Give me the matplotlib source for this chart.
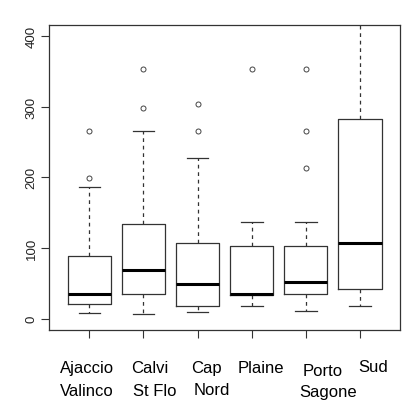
import matplotlib
matplotlib.use("Agg")
import matplotlib.pyplot as plt

plt.rcParams['font.family'] = ['Liberation Sans', 'DejaVu Sans']

categories = ["Ajaccio\nValinco", "Calvi\nSt Flo", "Cap\nNord", "Plaine", "Porto\nSagone", "Sud"]
whislo = [7.5, 6, 9.5, 18, 11, 18]
q1 = [21, 35, 18, 34, 35, 42]
med = [35, 68.5, 48.5, 35, 52, 107.5]
q3 = [88.5, 133.5, 107, 102.5, 102.5, 282.5]
whishi = [186, 266, 228, 137, 137, 460]
fliers = [[199.5, 266], [298, 354], [266, 304], [354], [213, 266, 354], []]
yticks = [0, 100, 200, 300, 400]

# label line layout (pixel centers / baselines measured on the reference)
label_lines = [
    ("Ajaccio", 86.7, 373), ("Valinco", 86.7, 396),
    ("Calvi", 150, 373), ("St Flo", 154.5, 396),
    ("Cap", 206, 373), ("Nord", 212, 395),
    ("Plaine", 261, 373),
    ("Porto", 323, 376), ("Sagone", 328, 397),
    ("Sud", 373, 372),
]

W, H = 406, 402
fig = plt.figure(figsize=(W / 100, H / 100), dpi=100)
ax = fig.add_axes([49.3 / W, 1 - 331 / H, (400 - 49.3) / W, (331 - 25.7) / H])

stats = []
for i in range(len(categories)):
    stats.append(dict(whislo=whislo[i], q1=q1[i], med=med[i], q3=q3[i],
                      whishi=whishi[i], fliers=fliers[i], label=categories[i]))

edge = '#333333'
ax.bxp(stats, positions=range(1, len(categories) + 1), widths=0.8,
       boxprops=dict(color=edge, linewidth=0.9),
       whiskerprops=dict(color=edge, linewidth=0.9, linestyle=(0, (3, 3))),
       capprops=dict(color=edge, linewidth=0.9),
       medianprops=dict(color='black', linewidth=2.2, solid_capstyle='butt'),
       flierprops=dict(marker='o', markersize=3.6, markerfacecolor='none',
                       markeredgecolor='#444444', markeredgewidth=0.7),
       capwidths=0.4)

ax.set_xlim(0.26, 6.74)
ax.set_ylim(-16, 416)
ax.set_yticks(yticks)
ax.set_yticklabels([str(v) for v in yticks], rotation=90, va='center', fontsize=9.5, color='#222222')
ax.set_xticks(range(1, len(categories) + 1))
ax.set_xticklabels([''] * len(categories))
ax.tick_params(axis='both', length=5.5, width=0.8, color='#333333', pad=3)
for s in ax.spines.values():
    s.set_color('#333333')
    s.set_linewidth(0.9)

for txt, xp, yb in label_lines:
    fig.text(xp / W, 1 - yb / H, txt, ha='center', va='baseline', fontsize=12, color='black')

fig.savefig('out.png', dpi=100)
